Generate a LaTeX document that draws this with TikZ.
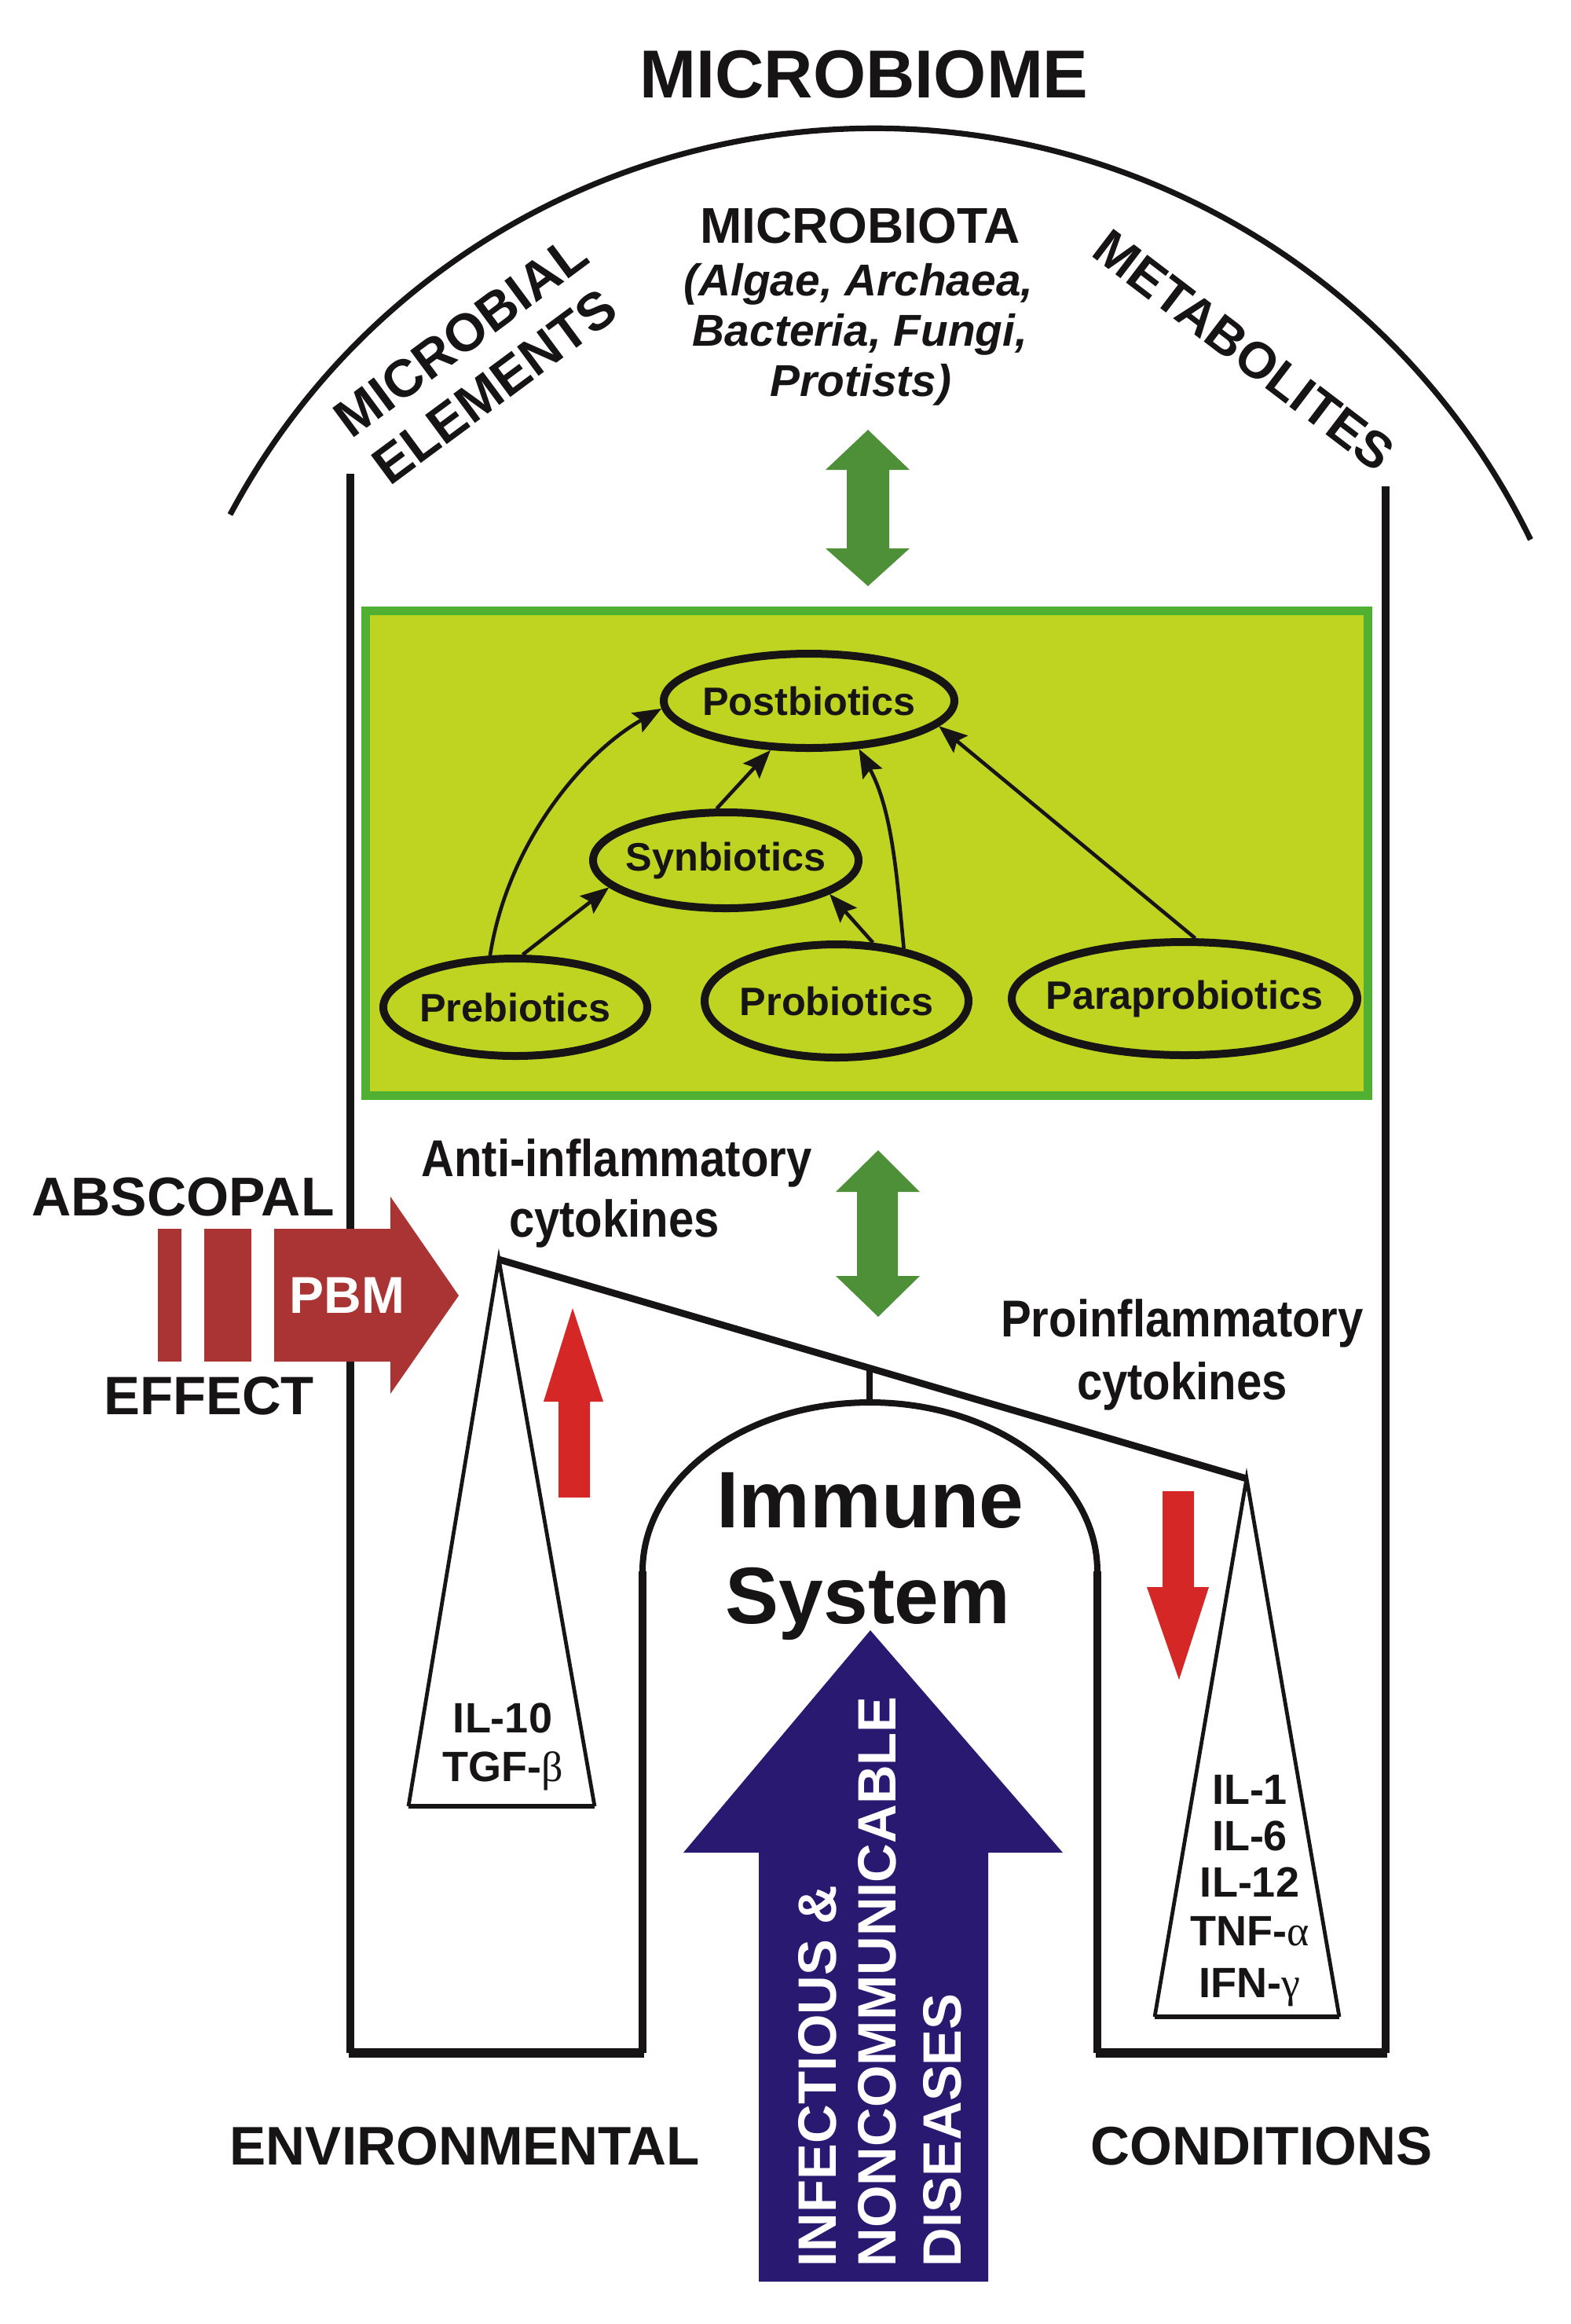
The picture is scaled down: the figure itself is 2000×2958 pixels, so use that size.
\documentclass[tikz,border=0pt]{standalone}
\usepackage{fontspec}
\setmainfont{Liberation Sans}
\newfontfamily\narrowfont{Liberation Sans}[FakeStretch=0.88]
\newfontfamily\greekfont{Liberation Serif}
\usetikzlibrary{shapes.geometric,arrows.meta}
\definecolor{limefill}{RGB}{190,212,33}
\definecolor{limeborder}{RGB}{80,176,50}
\definecolor{arrowgreen}{RGB}{78,144,56}
\definecolor{pbmred}{RGB}{170,52,52}
\definecolor{brightred}{RGB}{213,40,38}
\definecolor{diseaseblue}{RGB}{42,25,112}
\definecolor{ink}{RGB}{22,20,20}
\newcommand{\fsz}[1]{\fontsize{#1}{#1}\selectfont}
\newcommand{\gk}[1]{{\greekfont\mdseries #1}}
\newcommand{\zbox}[1]{\makebox[0pt]{#1}}
\begin{document}
\begin{tikzpicture}[x=0.25pt,y=-0.25pt,
  lbl/.style={inner sep=0pt, text=ink, font=\bfseries},
  ell/.style={ellipse, draw=ink, line width=2.5pt, inner sep=0pt, text=ink, font=\bfseries\fsz{12.6}},
  link/.style={draw=ink, line width=1.15pt, -{Stealth[length=9pt,width=7pt,inset=1.5pt]}},
  wall/.style={draw=ink, line width=2.5pt},
  narrowlbl/.style={inner sep=0pt, text=ink, font=\narrowfont\bfseries\fsz{16.5}, anchor=base},
  disease/.style={inner sep=0pt, text=white, font=\bfseries\fsz{17.2}, rotate=90, anchor=base west},
  cyto/.style={inner sep=0pt, text=ink, font=\bfseries\fsz{13.5}, anchor=base}
]
\useasboundingbox (0,0) rectangle (2000,2958);
\fill[white] (0,0) rectangle (2000,2958);

% title and dome
\node[lbl, font=\bfseries\fsz{21.6}, anchor=base] (title) at (1100,124) {MICROBIOME};
\draw[ink, line width=1.8pt] (293,655) arc[start angle=151.9, end angle=25.9, radius=232.3pt];

\node[lbl, font=\bfseries\fsz{16}, anchor=base] (mbiota) at (1095,309) {MICROBIOTA};
\node[lbl, font=\bfseries\itshape\fsz{14.2}, anchor=base] (mb1) at (1093,376) {(Algae, Archaea,};
\node[lbl, font=\bfseries\itshape\fsz{14.2}, anchor=base] (mb2) at (1095,440) {Bacteria, Fungi,};
\node[lbl, font=\bfseries\itshape\fsz{14.2}, anchor=base] (mb3) at (1096,504) {Protists)};

\node[lbl, font=\bfseries\fsz{16.8}, rotate=36.5] (mbial) at (587,428) {MICROBIAL};
\node[lbl, font=\bfseries\fsz{16.8}, rotate=36.5] (melem) at (630,492) {ELEMENTS};
\node[lbl, font=\bfseries\fsz{16.2}, rotate=-37.3] (metab) at (1584,446) {METABOLITES};

% frame
\draw[wall] (446,603) -- (446,2613);
\draw[wall] (1764,619) -- (1764,2613);
\draw[wall] (818,2000) -- (818,2613);
\draw[wall] (1397,2000) -- (1397,2613);
\draw[ink, line width=2.8pt] (444,2613) -- (820,2613);
\draw[ink, line width=2.8pt] (1395,2613) -- (1766,2613);
\draw[ink, line width=2pt] (818,2000) arc[start angle=180, end angle=0, x radius=72.375pt, y radius=53.75pt];

% green box
\draw[limeborder, fill=limefill, line width=2.75pt] (465.5,777.5) rectangle (1741.5,1394.5);

\node[ell, minimum width=92.5pt, minimum height=30pt] (post) at (1030,892) {\zbox{Postbiotics}};
\node[ell, minimum width=84.5pt, minimum height=30.5pt] (syn) at (924,1095) {\zbox{Synbiotics}};
\node[ell, minimum width=84pt, minimum height=31pt] (pre) at (656,1282) {\zbox{Prebiotics}};
\node[ell, minimum width=84pt, minimum height=36pt] (pro) at (1065,1274) {\zbox{Probiotics}};
\node[ell, minimum width=110pt, minimum height=36pt] (para) at (1508,1271) {\zbox{Paraprobiotics}};

\draw[link] (pre.116) .. controls (646,1075) and (740,960) .. (post.183);
\draw[link] (pre.82) -- (syn.193);
\draw[link] (syn.100) -- (post.232);
\draw[link] (pro.58) -- (syn.342);
\draw[link] (pro.38) .. controls (1142,1117) and (1136,1031) .. (post.316);
\draw[link] (para.80) -- (post.349);

% green double arrows
\fill[arrowgreen] (1105,547) -- (1158,598) -- (1132,598) -- (1132,698) -- (1158,698) -- (1105,746) -- (1051,698) -- (1078,698) -- (1078,598) -- (1051,598) -- cycle;
\fill[arrowgreen] (1118,1464) -- (1171,1517) -- (1143,1517) -- (1143,1624) -- (1171,1624) -- (1118,1676) -- (1064,1624) -- (1091,1624) -- (1091,1517) -- (1064,1517) -- cycle;

% cytokine labels
\node[narrowlbl] (anti1) at (785,1497) {Anti-inflammatory};
\node[narrowlbl] (anti2) at (782,1574) {cytokines};
\node[narrowlbl] (proi1) at (1505,1701) {Proinflammatory};
\node[narrowlbl] (proi2) at (1505,1781) {cytokines};

% balance
\coordinate (bl) at (635,1603);
\coordinate (br) at (1587,1882);
\coordinate (pivot) at (1107,1741);
\coordinate (archtop) at (1107,1786);
\coordinate (lb1) at (520,2299);
\coordinate (lb2) at (757,2299);
\coordinate (rb1) at (1470,2567);
\coordinate (rb2) at (1705,2567);
\draw[ink, line width=1.2pt, fill=white] (lb1) -- (bl) -- (lb2);
\draw[ink, line width=1.7pt] (lb1) -- (lb2);
\draw[ink, line width=1.2pt, fill=white] (rb1) -- (br) -- (rb2);
\draw[ink, line width=1.7pt] (rb1) -- (rb2);
\draw[ink, line width=2.2pt] (bl) -- (br);
\draw[ink, line width=1.9pt] (pivot) -- (archtop);

\node[cyto] (il10) at (640,2205) {IL-10};
\node[cyto] (tgfb) at (640,2267) {TGF-\gk{β}};
\node[cyto] (il1) at (1591,2296) {IL-1};
\node[cyto] (il6) at (1591,2355) {IL-6};
\node[cyto] (il12) at (1591,2414) {IL-12};
\node[cyto] (tnfa) at (1591,2476) {TNF-\gk{α}};
\node[cyto] (ifng) at (1591,2542) {IFN-\gk{γ}};

% red arrows
\fill[brightred] (729,1665) -- (768,1784) -- (751,1784) -- (751,1906) -- (711,1906) -- (711,1784) -- (692,1784) -- cycle;
\fill[brightred] (1480,1898) -- (1520,1898) -- (1520,2020) -- (1539,2020) -- (1501,2138) -- (1460,2020) -- (1480,2020) -- cycle;

% PBM arrow
\node[lbl, font=\bfseries\fsz{17.4}, anchor=base] (absc) at (233,1547) {ABSCOPAL};
\node[lbl, font=\bfseries\fsz{17.2}, anchor=base] (effect) at (266,1800) {EFFECT};
\fill[pbmred] (201,1564) rectangle (231,1733);
\fill[pbmred] (260,1564) rectangle (320,1733);
\fill[pbmred] (349,1564) -- (497,1564) -- (497,1523) -- (584,1649) -- (497,1774) -- (497,1733) -- (349,1733) -- cycle;
\node[lbl, text=white, font=\bfseries\fsz{16.5}, anchor=base] (pbm) at (442,1671) {PBM};

% immune system
\node[lbl, font=\bfseries\fsz{25.5}, anchor=base] (imm1) at (1108,1944) {Immune};
\node[lbl, font=\bfseries\fsz{25.5}, anchor=base] (imm2) at (1105,2066) {System};

% disease arrow
\fill[diseaseblue] (1108,2075) -- (1353,2358) -- (1258,2358) -- (1258,2904) -- (966,2904) -- (966,2358) -- (870,2358) -- cycle;
\node[disease] (dis1) at (1064,2886) {INFECTIOUS \&};
\node[disease] (dis2) at (1140,2886) {NONCOMMUNICABLE};
\node[disease] (dis3) at (1223,2886) {DISEASES};

\node[lbl, font=\bfseries\fsz{17.3}, anchor=base] (env) at (592,2755) {ENVIRONMENTAL};
\node[lbl, font=\bfseries\fsz{17.3}, anchor=base] (cond) at (1606,2755) {CONDITIONS};
\end{tikzpicture}
\end{document}
